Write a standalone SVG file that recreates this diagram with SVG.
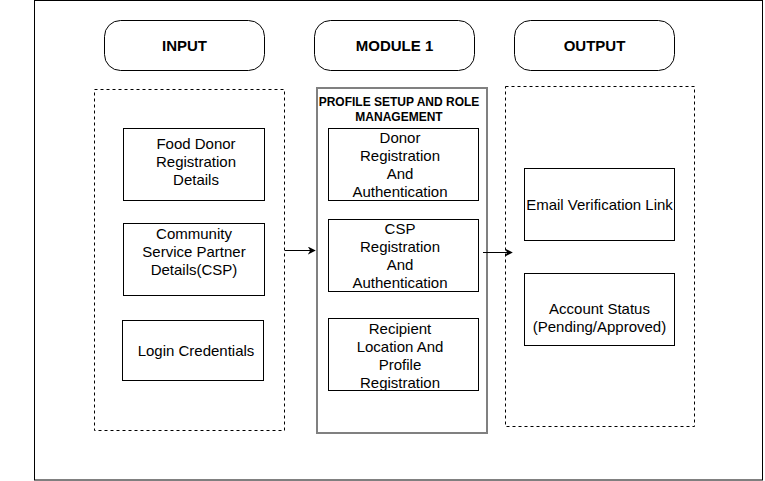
<svg xmlns="http://www.w3.org/2000/svg" width="765" height="481" viewBox="0 0 765 481">
<defs>
<style>
text{font-family:"Liberation Sans",Arial,sans-serif;fill:#000;text-anchor:middle}
.t{font-size:15px}
.h{font-size:15px;font-weight:bold}
.s{font-size:12px;font-weight:bold}
.box{fill:#fff;stroke:#000;stroke-width:1}
.pill{fill:#fff;stroke:#000;stroke-width:1}
.dash{fill:none;stroke:#000;stroke-width:1;stroke-dasharray:3 3}
.mod{fill:#fff;stroke:#808080;stroke-width:2}
.conn{stroke:#000;stroke-width:1;fill:none}
</style>
<marker id="arr" viewBox="0 0 10 10" refX="9" refY="5" markerWidth="8" markerHeight="8" markerUnits="userSpaceOnUse" orient="auto">
<path d="M0,0 L10,5 L0,10 L3,5 Z" fill="#000"/>
</marker>
</defs>
<rect x="0" y="0" width="765" height="481" fill="#fff"/>
<rect id="frame" x="34.5" y="0.5" width="728" height="479.5" fill="none" stroke="#000" stroke-width="1"/>

<g id="input-header"><rect class="pill" x="104.5" y="20.5" width="160" height="50" rx="16"/><text class="h" x="184.5" y="50.5">INPUT</text></g>
<g id="module-header"><rect class="pill" x="314.5" y="20.5" width="160" height="50" rx="16"/><text class="h" x="394.5" y="50.5">MODULE 1</text></g>
<g id="output-header"><rect class="pill" x="514.5" y="20.5" width="160" height="50" rx="16"/><text class="h" x="594.5" y="50.5">OUTPUT</text></g>

<g id="input-group"><rect class="dash" x="94.5" y="89.5" width="190" height="341"/></g>
<g id="food-donor"><rect class="box" x="123.5" y="128.5" width="141" height="72"/>
<text class="t" x="196" y="148.5">Food Donor</text><text class="t" x="196" y="166.5">Registration</text><text class="t" x="196" y="184.5">Details</text></g>
<g id="csp-details"><rect class="box" x="123.5" y="223.5" width="141" height="72"/>
<text class="t" x="194" y="238.5">Community</text><text class="t" x="194" y="256.5">Service Partner</text><text class="t" x="194" y="274.5">Details(CSP)</text></g>
<g id="login"><rect class="box" x="122.5" y="320.5" width="141" height="60"/>
<text class="t" x="196" y="356">Login Credentials</text></g>

<g id="module-group"><rect class="mod" x="317" y="88" width="170" height="345"/>
<text class="s" x="399" y="106">PROFILE SETUP AND ROLE</text><text class="s" x="399" y="121">MANAGEMENT</text></g>
<g id="donor-reg"><rect class="box" x="328.5" y="128.5" width="150" height="72"/>
<text class="t" x="400" y="142.5">Donor</text><text class="t" x="400" y="161">Registration</text><text class="t" x="400" y="178.5">And</text><text class="t" x="400" y="196.5">Authentication</text></g>
<g id="csp-reg"><rect class="box" x="328.5" y="219.5" width="150" height="72"/>
<text class="t" x="400" y="233.5">CSP</text><text class="t" x="400" y="251.5">Registration</text><text class="t" x="400" y="269.5">And</text><text class="t" x="400" y="287.5">Authentication</text></g>
<g id="recipient-reg"><rect class="box" x="328.5" y="318.5" width="150" height="72"/>
<text class="t" x="400" y="333.5">Recipient</text><text class="t" x="400" y="351.5">Location And</text><text class="t" x="400" y="369.5">Profile</text><text class="t" x="400" y="387.5">Registration</text></g>

<g id="output-group"><rect class="dash" x="505.5" y="86.5" width="189" height="340"/></g>
<g id="email"><rect class="box" x="524.5" y="168.5" width="150" height="72"/>
<text class="t" x="599.5" y="209.5">Email Verification Link</text></g>
<g id="status"><rect class="box" x="524.5" y="273.5" width="150" height="72"/>
<text class="t" x="599.5" y="313.5">Account Status</text><text class="t" x="599.5" y="331.5">(Pending/Approved)</text></g>

<g id="connectors">
<line class="conn" x1="285" y1="250.5" x2="315" y2="250.5" marker-end="url(#arr)"/>
<line class="conn" x1="483" y1="252.5" x2="512" y2="252.5" marker-end="url(#arr)"/>
</g>
</svg>
